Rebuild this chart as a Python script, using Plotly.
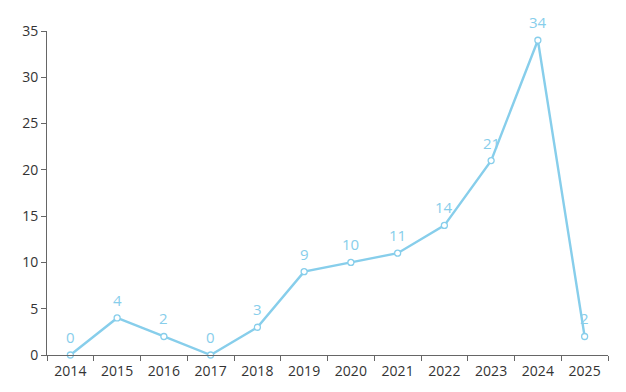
import plotly.graph_objects as go

years = ["2014", "2015", "2016", "2017", "2018", "2019", "2020", "2021", "2022", "2023", "2024", "2025"]
counts = [0, 4, 2, 0, 3, 9, 10, 11, 14, 21, 34, 2]

color = "#87CEEB"

fig = go.Figure(go.Scatter(
    x=years, y=counts, mode="lines+markers",
    line=dict(color=color, width=2.4),
    marker=dict(size=6, color="white", line=dict(color=color, width=1.3)),
    cliponaxis=False,
))

for i, v in enumerate(counts):
    fig.add_annotation(x=i, y=v, xref="x", yref="y", text=str(v), showarrow=False,
                       yshift=18, font=dict(color=color, size=15, family="Open Sans"))

fig.update_layout(
    width=610, height=376,
    margin=dict(l=39, r=10, t=23, b=29),
    paper_bgcolor="white", plot_bgcolor="white",
    showlegend=False,
    font=dict(family="Open Sans", size=14, color="#333"),
)
fig.update_xaxes(
    type="category", range=[-0.5, 11.5], tickson="boundaries", automargin=False,
    ticks="outside", ticklen=5, tickcolor="#666", ticklabelstandoff=3,
    showline=True, linecolor="#666", linewidth=1, showgrid=False,
    tickfont=dict(size=14, color="#333"),
)
fig.update_yaxes(
    range=[0, 35], dtick=5, ticks="outside", ticklen=5, tickcolor="#666", automargin=False,
    showline=True, linecolor="#666", linewidth=1, showgrid=False, zeroline=False,
    tickfont=dict(size=14, color="#333"),
)

fig.write_html("out.html")
